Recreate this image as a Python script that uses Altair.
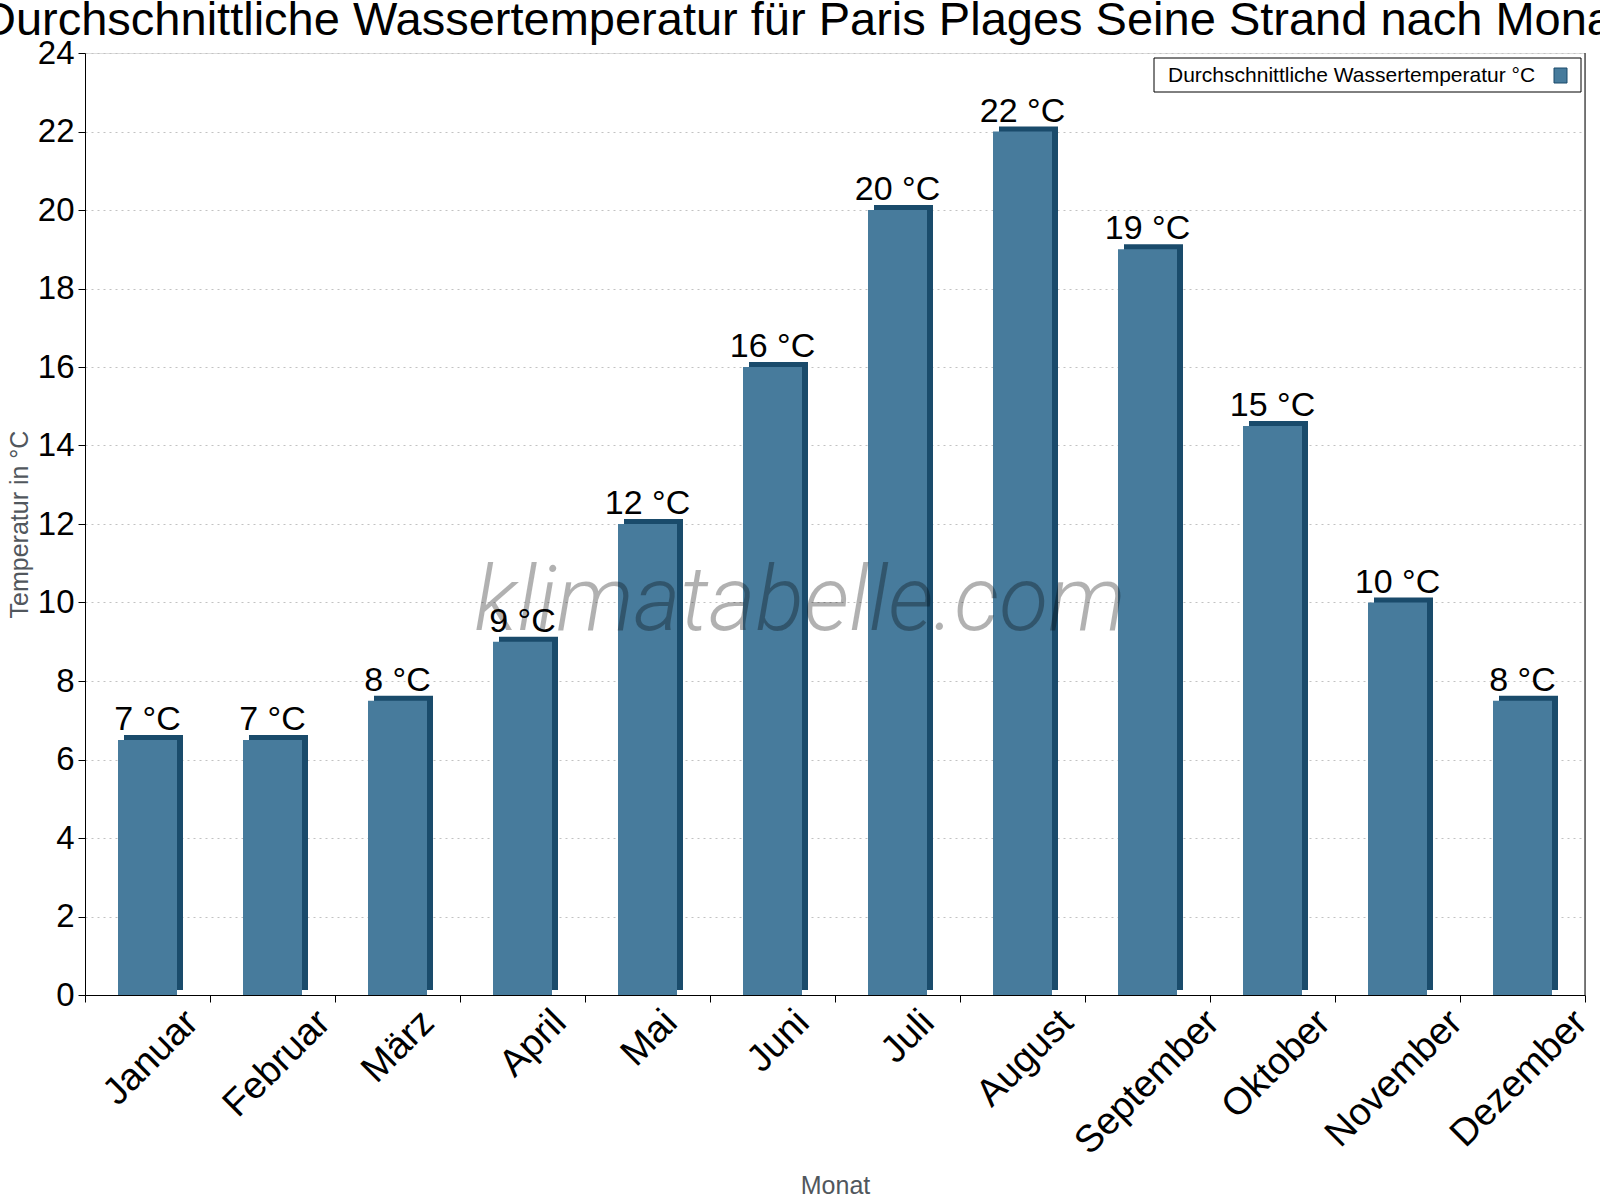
import altair as alt
import pandas as pd

# Monthly mean water temperature, Paris Plages (Seine beach)
months = ["Januar", "Februar", "März", "April", "Mai", "Juni",
          "Juli", "August", "September", "Oktober", "November", "Dezember"]
water_temp = [6.5, 6.5, 7.5, 9, 12, 16, 20, 22, 19, 14.5, 10, 7.5]

chart_title = "Durchschnittliche Wassertemperatur für Paris Plages Seine Strand nach Monat"
series_name = "Durchschnittliche Wassertemperatur °C"
y_title = "Temperatur in °C"
x_title = "Monat"
watermark = "klimatabelle.com"
y_ticks = list(range(0, 25, 2))

FRONT = "#477b9c"
SIDE = "#1a4b6b"
FONT = "Liberation Sans"

W, H = 1500, 942
BAR_W = 59

df = pd.DataFrame({"Monat": months, "Temp": water_temp})
one = pd.DataFrame({"k": [0]})

x_enc = alt.X(
    "Monat:N", sort=months, scale=alt.Scale(padding=0),
    axis=alt.Axis(
        title=x_title, titleFont=FONT, titleFontSize=25, titleFontWeight="normal",
        titleColor="#51575d", titleX=W / 2, titleY=198, titleBaseline="alphabetic",
        labelAngle=-45, labelAlign="right", labelBaseline="top",
        # rotated labels hang centred under their column: shift grows with text length
        labelOffset={"condition": {"test": "false", "value": 0},
                     "expr": "7 * length(datum.label) - 11"},
        labelPadding=1, labelFont=FONT, labelFontSize=38, labelColor="black",
        labelLimit=400,
        tickBand="extent", tickSize=7, tickColor="black", domainColor="black",
        grid=False,
    ),
)
y_enc = alt.Y(
    "Temp:Q", scale=alt.Scale(domain=[0, 24], nice=False),
    axis=alt.Axis(
        title=y_title, titleFont=FONT, titleFontSize=25, titleFontWeight="normal",
        titleColor="#51575d", titleX=-53, titleY=H / 2,
        values=y_ticks, labelFont=FONT, labelFontSize=33, labelColor="black",
        labelPadding=4, tickSize=7, tickColor="black", domainColor="black",
        grid=True, gridDash=[2, 4], gridColor="#c2c2c2",
    ),
)

base = alt.Chart(df)

# depth face of each column (top and right side)
side = base.mark_bar(
    width=BAR_W, color=SIDE, xOffset=6, yOffset=-5, y2Offset=5
).encode(x=x_enc, y=y_enc)
front = base.mark_bar(width=BAR_W, color=FRONT).encode(x=x_enc, y=y_enc)

labels = base.transform_calculate(
    label="format(datum.Temp, '.0f') + ' °C'"
).mark_text(
    font=FONT, fontSize=34, color="black", baseline="alphabetic", dy=-10
).encode(x=x_enc, y=y_enc, text="label:N")

right_edge = alt.Chart(one).mark_rule(color="black", strokeWidth=1).encode(
    x=alt.value(W), y=alt.value(0), y2=alt.value(H)
)

mark_wm = alt.Chart(one).mark_text(
    text=watermark, font="Roboto", fontStyle="italic", fontWeight=300,
    fontSize=90, color="black", opacity=0.3, align="center", baseline="alphabetic",
).encode(x=alt.value(715), y=alt.value(577))

title_text = alt.Chart(one).mark_text(
    text=chart_title, font=FONT, fontSize=47, color="black",
    align="center", baseline="alphabetic",
).encode(x=alt.value(719), y=alt.value(-18))

legend_box = alt.Chart(one).mark_rect(fill="white", stroke="black", strokeWidth=1).encode(
    x=alt.value(1069), x2=alt.value(1496), y=alt.value(5), y2=alt.value(39)
)
legend_text = alt.Chart(one).mark_text(
    text=series_name, font=FONT, fontSize=21, color="black",
    align="left", baseline="alphabetic",
).encode(x=alt.value(1083), y=alt.value(29))
legend_swatch = alt.Chart(one).mark_rect(fill=FRONT, stroke=SIDE, strokeWidth=1).encode(
    x=alt.value(1469), x2=alt.value(1482), y=alt.value(15), y2=alt.value(30)
)

chart = alt.layer(
    side, front, mark_wm, labels, right_edge, title_text,
    legend_box, legend_text, legend_swatch
).properties(
    width=W, height=H,
    autosize=alt.AutoSizeParams(type="none"),
    padding={"left": 85, "top": 53, "right": 15, "bottom": 205},
).configure_view(stroke=None).configure(background="white")

chart.save("out.html", embed_options={"renderer": "svg", "actions": False})
